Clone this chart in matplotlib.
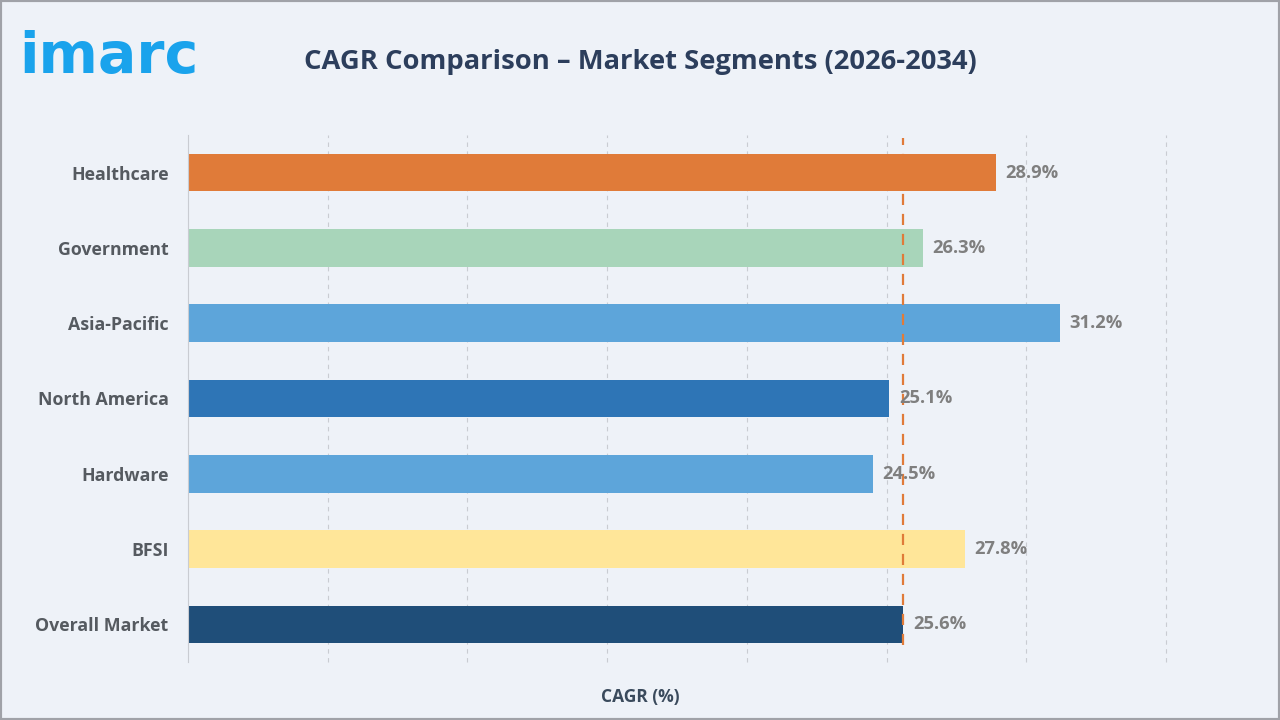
import matplotlib
matplotlib.use("Agg")
import matplotlib.pyplot as plt
from matplotlib.patches import Rectangle

categories = ["Healthcare", "Government", "Asia-Pacific", "North America", "Hardware", "BFSI", "Overall Market"]
cagr = [28.9, 26.3, 31.2, 25.1, 24.5, 27.8, 25.6]
bar_colors = ["#E07B39", "#A8D5BA", "#5DA5DA", "#2E75B6", "#5DA5DA", "#FFE699", "#1F4E79"]
overall_value = 25.6
title = "CAGR Comparison \u2013 Market Segments (2026-2034)"
xlabel = "CAGR (%)"

plt.rcParams['font.family'] = ['Open Sans', 'DejaVu Sans']
BG = "#EEF2F8"

fig = plt.figure(figsize=(12.8, 7.2), dpi=100, facecolor=BG)
ax = fig.add_axes([188/1280, 1-662/720, (1166-188)/1280, (662-135)/720])
ax.set_facecolor(BG)

y = list(range(len(categories)))
ax.barh(y, cagr, height=0.5, color=bar_colors, zorder=2)
ax.set_ylim(6.5, -0.5)
ax.set_xlim(0, 35)
ax.set_yticks(y)
ax.set_yticklabels(categories, fontsize=12.8, fontweight='bold', color="#555A60")
ax.tick_params(axis='y', length=0, pad=14)
ax.set_xticks([5, 10, 15, 20, 25, 30, 35])
ax.tick_params(axis='x', length=0, labelbottom=False)
ax.grid(axis='x', color="#C9CCD2", linestyle=(0, (4, 4)), linewidth=0.8, zorder=0)
for gl in ax.get_xgridlines():
    gl.set_clip_on(False)
for s in ['top', 'right', 'bottom']:
    ax.spines[s].set_visible(False)
ax.spines['left'].set_color("#C9CCD2")
ax.spines['left'].set_linewidth(0.8)

for yi, v in zip(y, cagr):
    ax.annotate(f"{v}%", xy=(v, yi), xytext=(7, 0), textcoords='offset points',
                ha='left', va='center', fontsize=13.2, fontweight='bold', color="#7F7F7F", zorder=4)

ax.axvline(overall_value, ymin=0.032, ymax=0.995, color="#E07B39", linestyle=(0, (5, 4)),
           linewidth=1.6, zorder=3)

fig.text(640/1280, 1-697/720, xlabel, ha='center', va='center', fontsize=12.5,
         fontweight='bold', color="#3A4A5C")

fig.text(640/1280, 1-62/720, title, ha='center', va='center', fontsize=19.7,
         fontweight='bold', color="#2C3E5C")
fig.text(19/1280, 1-73/720, "imarc", ha='left', va='baseline', fontsize=41,
         fontweight='bold', color="#1AA3EC", family=['DejaVu Sans'])

fig.patches.append(Rectangle((0, 0), 1, 1, transform=fig.transFigure, fill=False,
                             edgecolor="#A0A2A8", linewidth=3, zorder=10))

fig.savefig("out.png", dpi=100, facecolor=BG)
